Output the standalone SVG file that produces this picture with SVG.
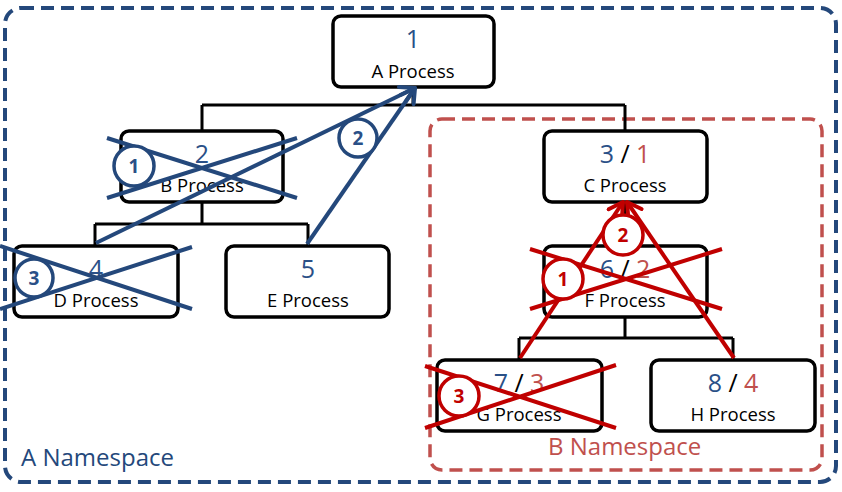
<svg xmlns="http://www.w3.org/2000/svg" width="842" height="492" viewBox="0 0 842 492">
<defs>
<style>
.node{fill:#fff;stroke:#000;stroke-width:3.5}
.num{font-family:"Open Sans","Liberation Sans",sans-serif;font-size:25px;text-anchor:middle}
.lbl{font-family:"Open Sans","Liberation Sans",sans-serif;font-size:18.5px;text-anchor:middle;fill:#000}
.bl{fill:#2A5087}
.rd{fill:#C0504D}
.tree{fill:none;stroke:#000;stroke-width:3}
.xb{stroke:#24487B;stroke-width:4;fill:none}
.xr{stroke:#C00000;stroke-width:4;fill:none}
.cb{fill:#fff;stroke:#24487B;stroke-width:3.5}
.cr{fill:#fff;stroke:#C00000;stroke-width:3.5}
.ct{font-family:"Open Sans","Liberation Sans",sans-serif;font-size:19px;font-weight:bold;text-anchor:middle}
.ns{font-family:"Open Sans","Liberation Sans",sans-serif;font-size:24px}
</style>
<marker id="ab" markerUnits="userSpaceOnUse" viewBox="-16 -10 20 20" refX="0" refY="0" markerWidth="20" markerHeight="20" orient="auto"><path d="M-14,-8 L0,0 L-14,8" fill="none" stroke="#24487B" stroke-width="4" stroke-linecap="round" stroke-linejoin="round"/></marker>
<marker id="ar" markerUnits="userSpaceOnUse" viewBox="-16 -10 20 20" refX="0" refY="0" markerWidth="20" markerHeight="20" orient="auto"><path d="M-14,-8 L0,0 L-14,8" fill="none" stroke="#C00000" stroke-width="4" stroke-linecap="round" stroke-linejoin="round"/></marker>
</defs>
<rect width="842" height="492" fill="#fff"/>
<g id="nsA">
<rect x="5" y="8" width="831" height="474" rx="16" fill="none" stroke="#24487B" stroke-width="4" stroke-dasharray="13 7"/>
<text class="ns" x="21" y="466" fill="#24487B">A Namespace</text>
</g>
<g id="nsB">
<rect x="430" y="119" width="392" height="351" rx="12" fill="none" stroke="#C0504D" stroke-width="3.5" stroke-dasharray="13 7"/>
<text class="ns" x="548" y="455" fill="#C0504D">B Namespace</text>
</g>
<g id="tree">
<path class="tree" d="M413,87 V105 M202,105 H625 M202,105 V131 M625,105 V131 M202,202 V224 M95,224 H308 M95,224 V246 M308,224 V246 M625,202 V246 M625,317 V338 M519,338 H733 M519,338 V360 M733,338 V360"/>
</g>
<g id="nodeA"><rect class="node" x="333" y="16" width="161" height="71" rx="8"/><text class="num bl" x="413" y="48">1</text><text class="lbl" x="413" y="78">A Process</text></g>
<g id="nodeB"><rect class="node" x="121" y="131" width="162" height="71" rx="8"/><text class="num bl" x="202" y="163">2</text><text class="lbl" x="202" y="192">B Process</text></g>
<g id="nodeC"><rect class="node" x="544" y="131" width="163" height="71" rx="8"/><text class="num" x="625" y="163"><tspan class="bl">3</tspan> / <tspan class="rd">1</tspan></text><text class="lbl" x="625" y="192">C Process</text></g>
<g id="nodeD"><rect class="node" x="14" y="246" width="164" height="71" rx="8"/><text class="num bl" x="96" y="278">4</text><text class="lbl" x="96" y="307">D Process</text></g>
<g id="nodeE"><rect class="node" x="226" y="246" width="163" height="71" rx="8"/><text class="num bl" x="308" y="278">5</text><text class="lbl" x="308" y="307">E Process</text></g>
<g id="nodeF"><rect class="node" x="544" y="246" width="163" height="71" rx="8"/><text class="num" x="625" y="278"><tspan class="bl">6</tspan> / <tspan class="rd">2</tspan></text><text class="lbl" x="625" y="307">F Process</text></g>
<g id="nodeG"><rect class="node" x="437" y="360" width="165" height="71" rx="8"/><text class="num" x="519" y="392"><tspan class="bl">7</tspan> / <tspan class="rd">3</tspan></text><text class="lbl" x="519" y="421">G Process</text></g>
<g id="nodeH"><rect class="node" x="651" y="360" width="164" height="71" rx="8"/><text class="num" x="733" y="392"><tspan class="bl">8</tspan> / <tspan class="rd">4</tspan></text><text class="lbl" x="733" y="421">H Process</text></g>
<g id="connectors">
<path class="xb" d="M107,138 L297,198 M107,198 L297,138"/>
<path class="xb" d="M0,246 L192,309 M0,309 L192,247"/>
<line class="xb" x1="96" y1="243" x2="415" y2="88" marker-end="url(#ab)"/>
<line class="xb" x1="307" y1="244" x2="415" y2="88" marker-end="url(#ab)"/>
<path class="xr" d="M530,249 L722,309 M530,309 L722,249"/>
<path class="xr" d="M425,366 L616,428 M425,428 L616,365"/>
<line class="xr" x1="520" y1="358" x2="623" y2="202" marker-end="url(#ar)"/>
<line class="xr" x1="734" y1="358" x2="627" y2="202" marker-end="url(#ar)"/>
</g>
<g id="badges">
<circle class="cb" cx="134" cy="166" r="20"/><text class="ct bl" x="134" y="172.5">1</text>
<circle class="cb" cx="358" cy="138" r="19"/><text class="ct bl" x="358" y="144.5">2</text>
<circle class="cb" cx="34" cy="278" r="19"/><text class="ct bl" x="34" y="284.5">3</text>
<circle class="cr" cx="563" cy="279" r="20"/><text class="ct" fill="#C00000" x="563" y="285.5">1</text>
<circle class="cr" cx="623" cy="235" r="20"/><text class="ct" fill="#C00000" x="623" y="241.5">2</text>
<circle class="cr" cx="459" cy="396" r="20"/><text class="ct" fill="#C00000" x="459" y="402.5">3</text>
</g>
</svg>
